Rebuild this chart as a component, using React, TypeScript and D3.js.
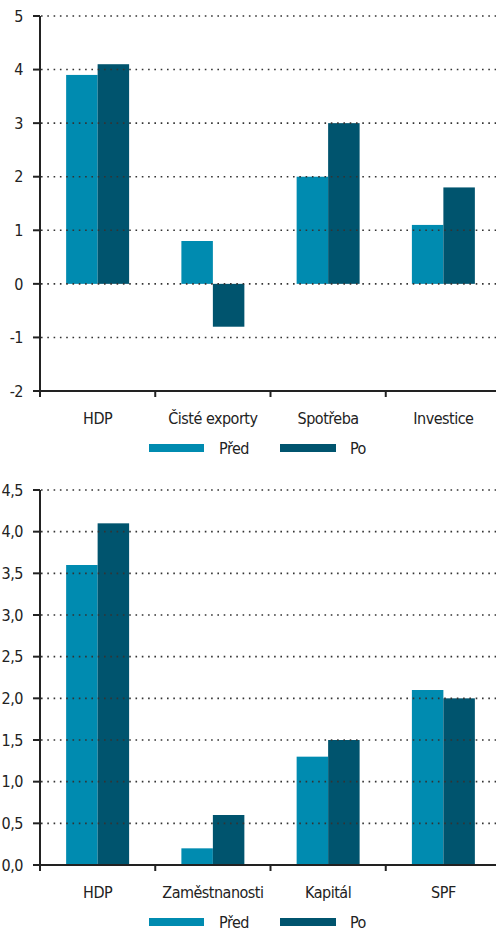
import * as d3 from "d3";

const series = ["Před", "Po"];
const colors = ["#008bb0", "#00546e"];

// top panel
const topCategories = ["HDP", "Čisté exporty", "Spotřeba", "Investice"];
const topPred = [3.9, 0.8, 2.0, 1.1];
const topPo = [4.1, -0.8, 3.0, 1.8];
const topTicks = [-2, -1, 0, 1, 2, 3, 4, 5];

// bottom panel
const botCategories = ["HDP", "Zaměstnanosti", "Kapitál", "SPF"];
const botPred = [3.6, 0.2, 1.3, 2.1];
const botPo = [4.1, 0.6, 1.5, 2.0];
const botTicks = [0, 0.5, 1, 1.5, 2, 2.5, 3, 3.5, 4, 4.5];

const FONT = "'DejaVu Sans Condensed', 'Liberation Sans Narrow', sans-serif";

function Panel({ categories, values, ticks, yDomain, yRange, fmt, labelY, legendY }: any) {
  const y = d3.scaleLinear().domain(yDomain).range(yRange);
  const x = d3.scaleBand().domain(categories).range([40, 501]);
  const x1 = d3.scaleBand().domain(series).range([0, x.bandwidth()]).paddingOuter(0.83);
  const axisY = y(yDomain[0]);

  return (
    <g fontFamily={FONT} fill="#222" fontSize={16} letterSpacing={-0.5}>
      {categories.map((c: string, i: number) =>
        series.map((s, j) => {
          const v = values[j][i];
          return (
            <rect
              key={c + s}
              x={(x(c) as number) + (x1(s) as number)}
              width={x1.bandwidth()}
              y={Math.min(y(v), y(0))}
              height={Math.abs(y(v) - y(0))}
              fill={colors[j]}
            />
          );
        })
      )}
      {/* grid */}
      {ticks
        .filter((t: number) => t !== yDomain[0])
        .map((t: number) => (
          <line key={"g" + t} x1={41} x2={496} y1={y(t)} y2={y(t)} stroke="#333" strokeWidth={1.6} strokeDasharray="1.6,4.7" />
        ))}
      {/* y axis */}
      <line x1={40} x2={40} y1={yRange[1]} y2={axisY + 1} stroke="#222" strokeWidth={2} />
      {ticks.map((t: number) => (
        <g key={"t" + t}>
          <line x1={33} x2={40} y1={y(t)} y2={y(t)} stroke="#222" strokeWidth={2} />
          <text x={23} y={y(t)} dy="0.36em" textAnchor="end">
            {fmt(t)}
          </text>
        </g>
      ))}
      {/* x axis */}
      <line x1={39} x2={496} y1={axisY} y2={axisY} stroke="#222" strokeWidth={2} />
      {categories.map((c: string) => (
        <g key={"x" + c}>
          <line x1={x(c) as number} x2={x(c) as number} y1={axisY} y2={axisY + 6} stroke="#222" strokeWidth={2} />
          <text x={(x(c) as number) + x.bandwidth() / 2} y={labelY} textAnchor="middle">
            {c}
          </text>
        </g>
      ))}
      {/* legend */}
      <rect x={149} y={legendY - 4} width={55} height={8} fill={colors[0]} />
      <text x={219} y={legendY} dy="0.36em">{series[0]}</text>
      <rect x={280} y={legendY - 4} width={56} height={8} fill={colors[1]} />
      <text x={350} y={legendY} dy="0.36em">{series[1]}</text>
    </g>
  );
}

export default function App() {
  const fmtInt = (t: number) => String(t);
  const fmtDec = (t: number) => d3.format(".1f")(t).replace(".", ",");
  return (
    <svg width={496} height={931} style={{ position: "absolute", left: 0, top: 0, background: "#fff" }}>
      <Panel
        categories={topCategories}
        values={[topPred, topPo]}
        ticks={topTicks}
        yDomain={[-2, 5]}
        yRange={[391, 16]}
        fmt={fmtInt}
        labelY={424}
        legendY={448}
      />
      <Panel
        categories={botCategories}
        values={[botPred, botPo]}
        ticks={botTicks}
        yDomain={[0, 4.5]}
        yRange={[865, 490]}
        fmt={fmtDec}
        labelY={898}
        legendY={922}
      />
    </svg>
  );
}
